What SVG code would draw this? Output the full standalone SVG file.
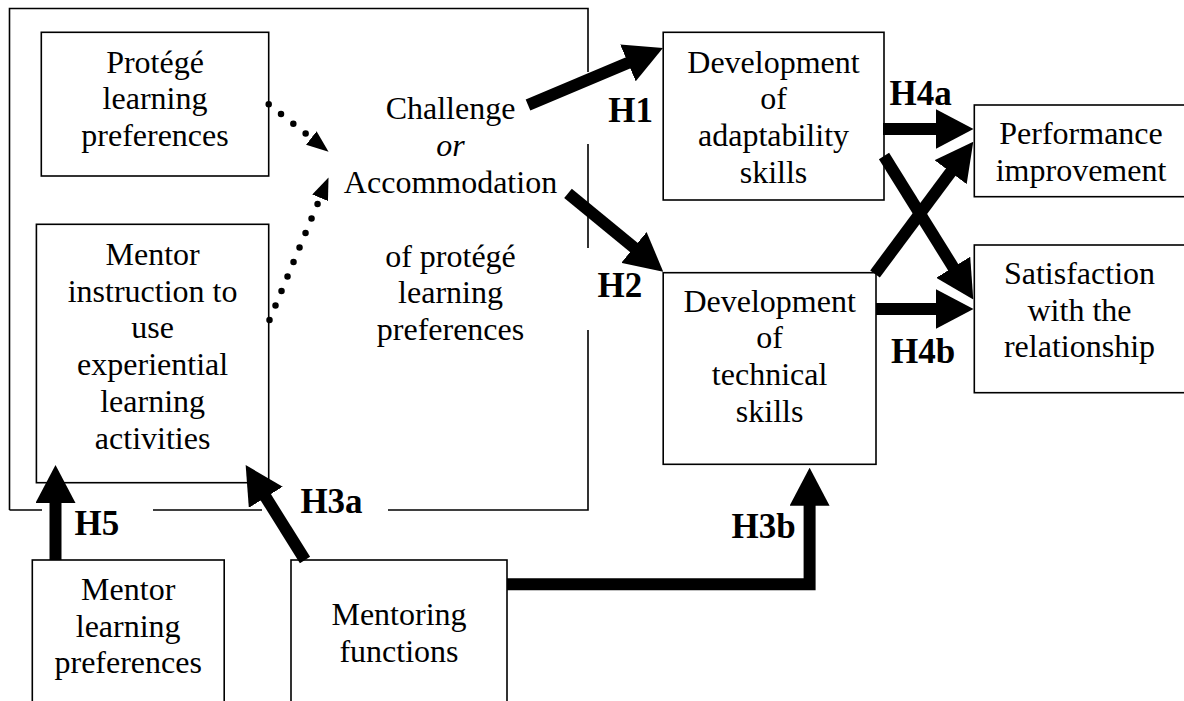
<svg xmlns="http://www.w3.org/2000/svg" width="1184" height="701" viewBox="0 0 1184 701">
<style>
.box{fill:none;stroke:#000;stroke-width:1.6}
.t{font-family:"Liberation Serif","Times New Roman",serif;font-size:32px;text-anchor:middle;fill:#000}
.lbl{font-family:"Liberation Serif","Times New Roman",serif;font-size:35px;font-weight:bold;fill:#000}
.thick{stroke:#000;stroke-width:12;fill:none;marker-end:url(#ah)}
.dot{stroke:#000;stroke-width:6.5;stroke-linecap:round;stroke-dasharray:0 15.7;fill:none;marker-end:url(#sh)}
</style>
<defs>
<marker id="ah" viewBox="0 0 38 40" refX="3" refY="20" markerWidth="38" markerHeight="40" markerUnits="userSpaceOnUse" orient="auto"><path d="M0,0 L38,20 L0,40 z" fill="#000"/></marker>
<marker id="sh" viewBox="0 0 22 17" refX="0" refY="8.5" markerWidth="22" markerHeight="17" markerUnits="userSpaceOnUse" orient="auto"><path d="M0,0 L22,8.5 L0,17 z" fill="#000"/></marker>
</defs>
<rect width="1184" height="701" fill="#fff"/>

<g id="outer-frame">
<path class="box" d="M9.5,510 L9.5,8.5 L588,8.5 L588,72 M588,144 L588,248 M588,330 L588,510 L388,510 M262,510 L153,510 M42,510 L9.5,510"/>
</g>

<g id="challenge-accommodation">
<text class="t" x="450.5" y="119.3">Challenge</text>
<text class="t" x="450.5" y="156" font-style="italic">or</text>
<text class="t" x="450.5" y="192.7">Accommodation</text>
<text class="t" x="450.5" y="266.7">of protégé</text>
<text class="t" x="450.5" y="303.3">learning</text>
<text class="t" x="450.5" y="340">preferences</text>
</g>

<g id="protege-prefs">
<rect class="box" x="41.3" y="32.3" width="227.4" height="143.7"/>
<text class="t" x="155" y="72.7">Protégé</text>
<text class="t" x="155" y="109.4">learning</text>
<text class="t" x="155" y="146">preferences</text>
</g>

<g id="mentor-instruction">
<rect class="box" x="36.4" y="224.3" width="232.3" height="258.4"/>
<text class="t" x="152.6" y="265">Mentor</text>
<text class="t" x="152.6" y="301.7">instruction to</text>
<text class="t" x="152.6" y="338.4">use</text>
<text class="t" x="152.6" y="375.1">experiential</text>
<text class="t" x="152.6" y="411.8">learning</text>
<text class="t" x="152.6" y="448.5">activities</text>
</g>

<g id="adaptability">
<rect class="box" x="663.2" y="32.3" width="220.8" height="167.7"/>
<text class="t" x="773.5" y="72.7">Development</text>
<text class="t" x="773.5" y="109.4">of</text>
<text class="t" x="773.5" y="146">adaptability</text>
<text class="t" x="773.5" y="182.7">skills</text>
</g>

<g id="technical">
<rect class="box" x="663.2" y="272.7" width="212.8" height="191.6"/>
<text class="t" x="769.6" y="311.7">Development</text>
<text class="t" x="769.6" y="348.3">of</text>
<text class="t" x="769.6" y="385">technical</text>
<text class="t" x="769.6" y="421.7">skills</text>
</g>

<g id="performance">
<rect class="box" x="974.3" y="105" width="230" height="91.7"/>
<text class="t" x="1081" y="144.3">Performance</text>
<text class="t" x="1081" y="181">improvement</text>
</g>

<g id="satisfaction">
<rect class="box" x="974.3" y="245" width="230" height="147.7"/>
<text class="t" x="1079.5" y="284">Satisfaction</text>
<text class="t" x="1079.5" y="320.7">with the</text>
<text class="t" x="1079.5" y="356.7">relationship</text>
</g>

<g id="mentor-prefs">
<rect class="box" x="32.3" y="560" width="191.9" height="170"/>
<text class="t" x="128.2" y="600">Mentor</text>
<text class="t" x="128.2" y="636.7">learning</text>
<text class="t" x="128.2" y="673.3">preferences</text>
</g>

<g id="mentoring-functions">
<rect class="box" x="291" y="560" width="216" height="170"/>
<text class="t" x="399" y="625">Mentoring</text>
<text class="t" x="399" y="661.7">functions</text>
</g>

<g id="connectors">
<path class="dot" d="M268.7,104.3 L311.3,138"/>
<path class="dot" d="M269.5,320 L320.1,197.8"/>
<path class="thick" d="M528,105 L630.7,61.7"/>
<path class="thick" d="M568,193.3 L636.2,249.4"/>
<path class="thick" d="M883,129 L938.5,129"/>
<path class="thick" d="M876,309 L938.5,309"/>
<path class="thick" d="M884,156 L954.8,269.8"/>
<path class="thick" d="M875,274 L952.4,169.8"/>
<path class="thick" d="M55.5,560 L55.5,500"/>
<path class="thick" d="M305,560 L264.2,494.7"/>
<path class="thick" d="M507,584.2 L809.6,584.2 L809.6,502.7" stroke-linejoin="miter"/>
</g>

<g id="labels">
<text class="lbl" x="608.3" y="121.7">H1</text>
<text class="lbl" x="597.6" y="296.7">H2</text>
<text class="lbl" x="889.5" y="105">H4a</text>
<text class="lbl" x="891" y="363.3">H4b</text>
<text class="lbl" x="731.5" y="538.3">H3b</text>
<text class="lbl" x="300.4" y="513.3">H3a</text>
<text class="lbl" x="74.6" y="535">H5</text>
</g>
</svg>
